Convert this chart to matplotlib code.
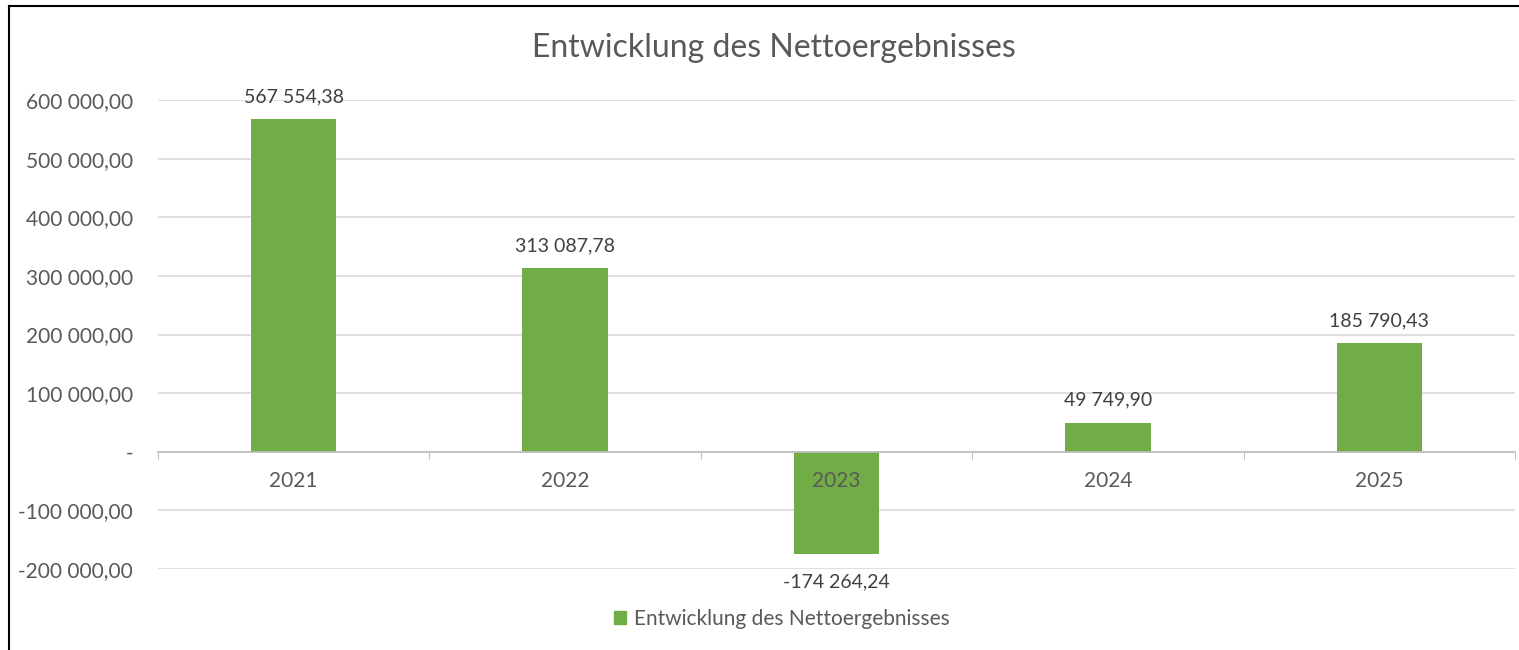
import matplotlib
matplotlib.use("Agg")
import matplotlib.pyplot as plt
from matplotlib.ticker import FuncFormatter
from matplotlib.patches import Patch
from matplotlib.lines import Line2D

years = ["2021", "2022", "2023", "2024", "2025"]
net_results = [567554.38, 313087.78, -174264.24, 49749.90, 185790.43]
y_ticks = [-200000, -100000, 0, 100000, 200000, 300000, 400000, 500000, 600000]
title_text = "Entwicklung des Nettoergebnisses"
series_name = "Entwicklung des Nettoergebnisses"

BAR_COLOR = "#70AD47"
TEXT_GRAY = "#595959"
LABEL_DARK = "#404040"
GRID_GRAY = "#D9D9D9"

plt.rcParams["font.family"] = ["Lato", "DejaVu Sans"]


def de_number(v):
    s = f"{abs(v):,.2f}".replace(",", " ").replace(".", ",")
    return ("-" if v < 0 else "") + s


def y_fmt(v, pos):
    if abs(v) < 1e-6:
        return "-"
    return de_number(v)


W, H = 1519, 650
fig = plt.figure(figsize=(W / 100, H / 100), dpi=100)

# frame line (top and left like the cropped screenshot)
fig.add_artist(Line2D([9 / W, 9 / W], [0, 1 - 6 / H], color="black", lw=1.5))
fig.add_artist(Line2D([9 / W, 1], [1 - 6 / H, 1 - 6 / H], color="black", lw=1.5))

ax = fig.add_axes([158 / W, (H - 569) / H, (1515 - 158) / W, (569 - 100) / H])
x = list(range(len(years)))
bars = ax.bar(x, net_results, width=0.315, color=BAR_COLOR, zorder=2)

ax.set_xlim(-0.5, len(years) - 0.5)
ax.set_ylim(-200000, 600000)
ax.set_yticks(y_ticks)
ax.yaxis.set_major_formatter(FuncFormatter(y_fmt))
ax.tick_params(axis="y", length=0, pad=18, labelsize=15, labelcolor=TEXT_GRAY)
ax.grid(axis="y", color=GRID_GRAY, lw=1.2, zorder=0)
ax.set_axisbelow(True)

for sp in ["top", "right", "left"]:
    ax.spines[sp].set_visible(False)
ax.spines["bottom"].set_position(("data", 0))
ax.spines["bottom"].set_color("#BFBFBF")
ax.spines["bottom"].set_linewidth(1.2)
ax.set_xticks([i + 0.5 for i in range(-1, len(years))])
ax.set_xticklabels([])
ax.tick_params(axis="x", length=5, color="#BFBFBF", direction="out")

for i, yr in enumerate(years):
    ax.annotate(yr, xy=(i, 0), xytext=(0, -21), textcoords="offset points",
                ha="center", va="center", fontsize=15, color=TEXT_GRAY, zorder=4)

for rect, v in zip(bars, net_results):
    cx = rect.get_x() + rect.get_width() / 2
    off = 16 if v >= 0 else -20
    ax.annotate(de_number(v), xy=(cx, v), xytext=(0, off), textcoords="offset points",
                ha="center", va="center", fontsize=14, color=LABEL_DARK, zorder=4)

fig.text(774 / W, 1 - 48 / H, title_text, ha="center", va="center", fontsize=23, color=TEXT_GRAY)

fig.legend(handles=[Patch(color=BAR_COLOR, label=series_name)], loc="center",
           bbox_to_anchor=(782 / W, 1 - 619 / H), frameon=False, fontsize=15,
           handlelength=0.55, handleheight=0.55, handletextpad=0.4, labelcolor=TEXT_GRAY)

fig.savefig("out.png", dpi=100, facecolor="white")
